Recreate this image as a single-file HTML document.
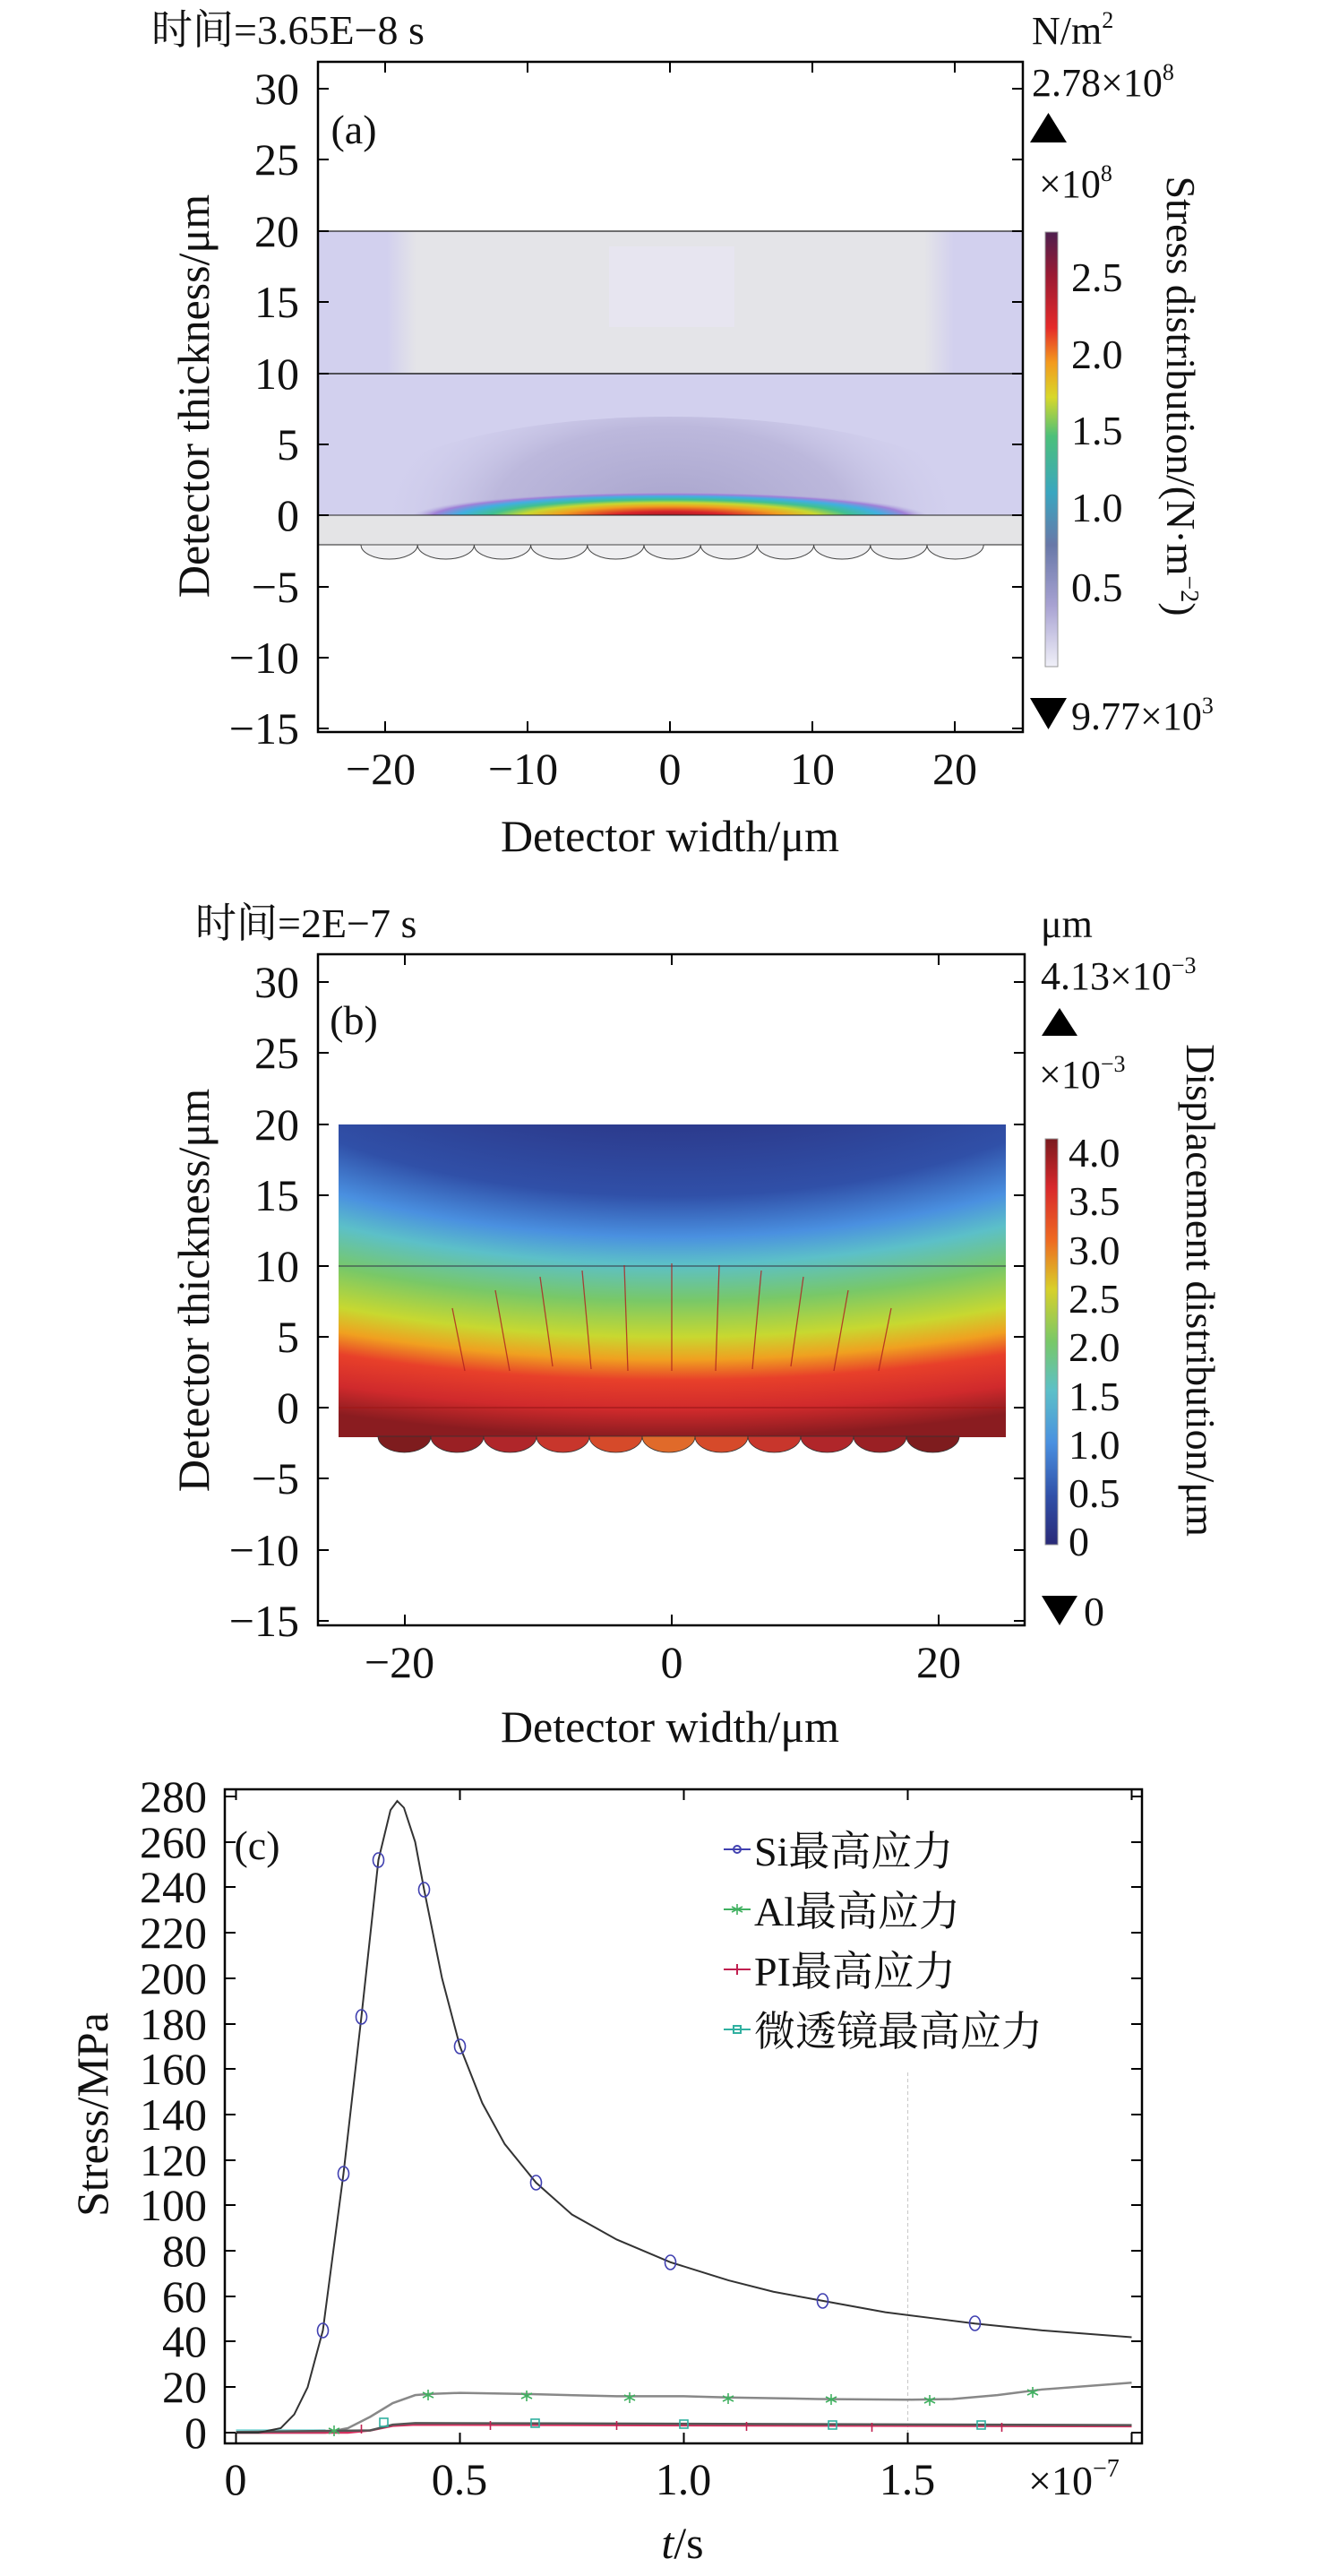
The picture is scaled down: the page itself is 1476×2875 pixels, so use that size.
<!DOCTYPE html>
<html><head><meta charset="utf-8"><style>
html,body{margin:0;padding:0;background:#fff;}
svg{display:block;}
text{font-family:"Liberation Serif","Noto Serif CJK SC",serif;fill:#111;}
</style></head><body>
<svg width="1476" height="2875" viewBox="0 0 1476 2875" xmlns="http://www.w3.org/2000/svg">
<defs>
 <linearGradient id="cbA" x1="0" y1="0" x2="0" y2="1">
  <stop offset="0" stop-color="#4e1f4e"/><stop offset="0.1" stop-color="#9a1a33"/>
  <stop offset="0.22" stop-color="#e52a2a"/><stop offset="0.3" stop-color="#f39a1e"/>
  <stop offset="0.38" stop-color="#d8d82a"/><stop offset="0.47" stop-color="#4cc07a"/>
  <stop offset="0.6" stop-color="#3aa6c0"/><stop offset="0.72" stop-color="#6878a8"/>
  <stop offset="0.86" stop-color="#a8a2d2"/><stop offset="1" stop-color="#f0f0f8"/>
 </linearGradient>
 <linearGradient id="cbB" x1="0" y1="0" x2="0" y2="1">
  <stop offset="0" stop-color="#7a1a1e"/><stop offset="0.12" stop-color="#d8282c"/>
  <stop offset="0.25" stop-color="#ee6a22"/><stop offset="0.37" stop-color="#d8d02a"/>
  <stop offset="0.5" stop-color="#78c868"/><stop offset="0.62" stop-color="#5cc0c8"/>
  <stop offset="0.75" stop-color="#4a90e0"/><stop offset="0.88" stop-color="#3050a8"/>
  <stop offset="1" stop-color="#2a2a78"/>
 </linearGradient>
 <linearGradient id="edgeL" x1="0" y1="0" x2="1" y2="0">
  <stop offset="0" stop-color="#d2d0ee"/><stop offset="0.7" stop-color="#d2d0ee"/><stop offset="1" stop-color="#d2d0ee" stop-opacity="0"/>
 </linearGradient>
 <linearGradient id="edgeR" x1="1" y1="0" x2="0" y2="0">
  <stop offset="0" stop-color="#d2d0ee"/><stop offset="0.7" stop-color="#d2d0ee"/><stop offset="1" stop-color="#d2d0ee" stop-opacity="0"/>
 </linearGradient>
 <radialGradient id="heat" cx="748" cy="578" r="290" gradientUnits="userSpaceOnUse" gradientTransform="translate(748 578) scale(1 0.1) translate(-748 -578)">
  <stop offset="0" stop-color="#8a1424"/><stop offset="0.25" stop-color="#d8242a"/>
  <stop offset="0.45" stop-color="#f0a020"/><stop offset="0.58" stop-color="#c8d830"/>
  <stop offset="0.7" stop-color="#40c090"/><stop offset="0.82" stop-color="#40b0e0"/>
  <stop offset="0.92" stop-color="#a080d8"/><stop offset="1" stop-color="#b8b4e0" stop-opacity="0"/>
 </radialGradient>
 <radialGradient id="glow" cx="748" cy="575" r="330" gradientUnits="userSpaceOnUse" gradientTransform="translate(748 575) scale(1 0.5) translate(-748 -575)">
  <stop offset="0" stop-color="#a8a4cc"/><stop offset="0.6" stop-color="#bcb8dc"/><stop offset="1" stop-color="#d2d0ee" stop-opacity="0"/>
 </radialGradient>
 <radialGradient id="disp" cx="750" cy="1096" r="508" gradientUnits="userSpaceOnUse" gradientTransform="translate(750 1096) scale(2.35 1) translate(-750 -1096)">
  <stop offset="0" stop-color="#2a2a78"/><stop offset="0.31" stop-color="#2c3a8c"/>
  <stop offset="0.47" stop-color="#3050a8"/><stop offset="0.56" stop-color="#4a90e0"/>
  <stop offset="0.62" stop-color="#5cc0c8"/><stop offset="0.7" stop-color="#78c868"/>
  <stop offset="0.78" stop-color="#c8d830"/><stop offset="0.83" stop-color="#f0a020"/>
  <stop offset="0.875" stop-color="#e8402a"/><stop offset="0.94" stop-color="#d02a2c"/>
  <stop offset="1" stop-color="#8a1c20"/>
 </radialGradient>
 <clipPath id="clipA"><rect x="355" y="417" width="787" height="159"/></clipPath>
</defs>

<!-- ===== Panel (a) ===== -->
<text x="169" y="49" font-size="46">时间=3.65E−8 s</text>
<text x="1152" y="49" font-size="44">N/m<tspan font-size="26" dy="-18">2</tspan></text>
<text x="1152" y="107" font-size="44">2.78×10<tspan font-size="26" dy="-18">8</tspan></text>
<polygon points="1150,159 1191,159 1170.5,126" fill="#000"/>
<text x="1160" y="220" font-size="44">×10<tspan font-size="26" dy="-18">8</tspan></text>
<rect x="1167" y="259" width="14" height="485" fill="url(#cbA)" stroke="#999" stroke-width="1"/>
<g font-size="46"><text x="1196" y="325">2.5</text><text x="1196" y="411">2.0</text><text x="1196" y="496">1.5</text><text x="1196" y="582">1.0</text><text x="1196" y="671">0.5</text></g>
<text transform="translate(1303 442) rotate(90)" text-anchor="middle" font-size="46">Stress distribution/(N·m<tspan font-size="28" dy="-16">−2</tspan><tspan dy="16">)</tspan></text>
<polygon points="1150,779 1191,779 1170.5,814" fill="#000"/>
<text x="1196" y="814" font-size="44">9.77×10<tspan font-size="26" dy="-18">3</tspan></text>

<rect x="355" y="258" width="787" height="159" fill="#e4e4e8"/>
<rect x="355" y="258" width="110" height="159" fill="url(#edgeL)"/>
<rect x="1032" y="258" width="110" height="159" fill="url(#edgeR)"/>
<rect x="680" y="275" width="140" height="90" fill="#e8e6f4" opacity="0.7"/>
<rect x="355" y="417" width="787" height="159" fill="#d2d0ee"/>
<g clip-path="url(#clipA)">
 <ellipse cx="748" cy="575" rx="360" ry="110" fill="url(#glow)"/>
 <ellipse cx="748" cy="578" rx="290" ry="35" fill="url(#heat)"/>
</g>
<rect x="355" y="575" width="787" height="33" fill="#e4e4e6" stroke="#222" stroke-width="1"/>
<line x1="355" y1="258" x2="1142" y2="258" stroke="#222" stroke-width="1.2"/>
<line x1="355" y1="417" x2="1142" y2="417" stroke="#222" stroke-width="1.5"/>
<g fill="#eeeef0" stroke="#444" stroke-width="1">
 <path d="M403,608 a31.6,16 0 0 0 63.2,0 a31.6,16 0 0 0 63.2,0 a31.6,16 0 0 0 63.2,0 a31.6,16 0 0 0 63.2,0 a31.6,16 0 0 0 63.2,0 a31.6,16 0 0 0 63.2,0 a31.6,16 0 0 0 63.2,0 a31.6,16 0 0 0 63.2,0 a31.6,16 0 0 0 63.2,0 a31.6,16 0 0 0 63.2,0 a31.6,16 0 0 0 63.2,0 z"/>
</g>
<rect x="355" y="69" width="787" height="748" fill="none" stroke="#000" stroke-width="2.5"/>
<g stroke="#000" stroke-width="2">
 <path d="M355,99h12M355,178h12M355,258h12M355,337h12M355,417h12M355,496h12M355,575h12M355,655h12M355,734h12M355,813h12"/>
 <path d="M1142,99h-12M1142,178h-12M1142,258h-12M1142,337h-12M1142,417h-12M1142,496h-12M1142,575h-12M1142,655h-12M1142,734h-12M1142,813h-12"/>
 <path d="M430,817v-12M589,817v-12M748,817v-12M907,817v-12M1066,817v-12"/>
 <path d="M430,69v12M589,69v12M748,69v12M907,69v12M1066,69v12"/>
</g>
<g font-size="50" text-anchor="end">
 <text x="334" y="116">30</text><text x="334" y="195">25</text><text x="334" y="275">20</text><text x="334" y="354">15</text><text x="334" y="434">10</text><text x="334" y="513">5</text><text x="334" y="592">0</text><text x="334" y="672">−5</text><text x="334" y="751">−10</text><text x="334" y="830">−15</text>
</g>
<g font-size="50" text-anchor="middle">
 <text x="425" y="875">−20</text><text x="584" y="875">−10</text><text x="748" y="875">0</text><text x="907" y="875">10</text><text x="1066" y="875">20</text>
</g>
<text x="748" y="950" font-size="50" text-anchor="middle">Detector width/μm</text>
<text transform="translate(233 442) rotate(-90)" font-size="50" text-anchor="middle">Detector thickness/μm</text>
<text x="395" y="160" font-size="46" text-anchor="middle">(a)</text>

<!-- ===== Panel (b) ===== -->
<text x="218" y="1046" font-size="46">时间=2E−7 s</text>
<text x="1162" y="1046" font-size="44">μm</text>
<text x="1162" y="1104" font-size="44">4.13×10<tspan font-size="26" dy="-18">−3</tspan></text>
<polygon points="1163,1156 1203,1156 1183,1125" fill="#000"/>
<text x="1160" y="1214" font-size="44">×10<tspan font-size="26" dy="-18">−3</tspan></text>
<rect x="1167" y="1271" width="14" height="453" fill="url(#cbB)" stroke="#999" stroke-width="1"/>
<g font-size="46"><text x="1193" y="1302">4.0</text><text x="1193" y="1356">3.5</text><text x="1193" y="1411">3.0</text><text x="1193" y="1465">2.5</text><text x="1193" y="1519">2.0</text><text x="1193" y="1574">1.5</text><text x="1193" y="1628">1.0</text><text x="1193" y="1682">0.5</text><text x="1193" y="1736">0</text></g>
<text transform="translate(1325 1440) rotate(90)" text-anchor="middle" font-size="46">Displacement distribution/μm</text>
<polygon points="1163,1781 1203,1781 1183,1814" fill="#000"/>
<text x="1210" y="1814" font-size="46">0</text>

<rect x="378" y="1255" width="745" height="349" fill="url(#disp)"/>
<g stroke="#333" stroke-width="0.8">
 <path d="M422,1603 a29.5,18 0 0 0 59,0 z" fill="#7e1c1e"/><path d="M481,1603 a29.5,18 0 0 0 59,0 z" fill="#9a2024"/>
 <path d="M540,1603 a29.5,18 0 0 0 59,0 z" fill="#b0262a"/><path d="M599,1603 a29.5,18 0 0 0 59,0 z" fill="#c8362c"/>
 <path d="M658,1603 a29.5,18 0 0 0 59,0 z" fill="#d64a2a"/><path d="M717,1603 a29.5,18 0 0 0 59,0 z" fill="#e06a2a"/>
 <path d="M776,1603 a29.5,18 0 0 0 59,0 z" fill="#d64a2a"/><path d="M835,1603 a29.5,18 0 0 0 59,0 z" fill="#c8362c"/>
 <path d="M894,1603 a29.5,18 0 0 0 59,0 z" fill="#b0262a"/><path d="M953,1603 a29.5,18 0 0 0 59,0 z" fill="#9a2024"/>
 <path d="M1012,1603 a29.5,18 0 0 0 59,0 z" fill="#7e1c1e"/>
</g>
<line x1="378" y1="1413" x2="1123" y2="1413" stroke="#334" stroke-width="1"/>
<line x1="378" y1="1571" x2="1123" y2="1571" stroke="#a01818" stroke-width="1.2"/>
<g stroke="#b02020" stroke-width="1.3" opacity="0.8">
 <path d="M750,1410v120M697,1412l4,118M803,1412l-4,118M650,1418l10,110M850,1418l-10,110M603,1425l14,100M897,1425l-14,100M553,1440l16,90M947,1440l-16,90M505,1460l14,70M995,1460l-14,70"/>
</g>
<rect x="355" y="1065" width="789" height="749" fill="none" stroke="#000" stroke-width="2.5"/>
<g stroke="#000" stroke-width="2">
 <path d="M355,1096h12M355,1175h12M355,1255h12M355,1334h12M355,1413h12M355,1492h12M355,1571h12M355,1650h12M355,1730h12M355,1809h12"/>
 <path d="M1144,1096h-12M1144,1175h-12M1144,1255h-12M1144,1334h-12M1144,1413h-12M1144,1492h-12M1144,1571h-12M1144,1650h-12M1144,1730h-12M1144,1809h-12"/>
 <path d="M452,1814v-12M750,1814v-12M1048,1814v-12M452,1065v12M750,1065v12M1048,1065v12"/>
</g>
<g font-size="50" text-anchor="end">
 <text x="334" y="1113">30</text><text x="334" y="1192">25</text><text x="334" y="1272">20</text><text x="334" y="1351">15</text><text x="334" y="1430">10</text><text x="334" y="1509">5</text><text x="334" y="1588">0</text><text x="334" y="1667">−5</text><text x="334" y="1747">−10</text><text x="334" y="1826">−15</text>
</g>
<g font-size="50" text-anchor="middle"><text x="446" y="1872">−20</text><text x="750" y="1872">0</text><text x="1048" y="1872">20</text></g>
<text x="748" y="1944" font-size="50" text-anchor="middle">Detector width/μm</text>
<text transform="translate(233 1440) rotate(-90)" font-size="50" text-anchor="middle">Detector thickness/μm</text>
<text x="395" y="1154" font-size="46" text-anchor="middle">(b)</text>

<!-- ===== Panel (c) ===== -->
<line x1="1013.5" y1="2313" x2="1013.5" y2="2724" stroke="#ccc" stroke-width="1.2" stroke-dasharray="4,3"/>
<g transform="translate(263.5 2715) scale(500 -2.536)" fill="none">
 <polyline vector-effect="non-scaling-stroke" stroke="#7fd8d8" stroke-width="5" points="0,0.5 0.15,0.5 0.2,0.5"/>
 <polyline vector-effect="non-scaling-stroke" stroke="#888" stroke-width="2.5" points="0,0 0.2,0 0.25,2 0.3,7 0.35,13 0.4,16.5 0.43,17 0.5,17.5 0.65,17 0.85,16 1.0,16 1.1,15.5 1.3,14.8 1.5,14.5 1.6,14.8 1.7,16.5 1.8,19 2.0,22"/>
 <polyline vector-effect="non-scaling-stroke" stroke="#d83060" stroke-width="2.5" points="0,0 0.25,0 0.3,1 0.35,3 0.4,3.5 1.0,3.2 2.0,2.8"/>
 <polyline vector-effect="non-scaling-stroke" stroke="#555" stroke-width="2.5" points="0,0.3 0.3,1 0.35,3.5 0.4,4.2 1.0,3.9 2.0,3.3"/>
 <polyline vector-effect="non-scaling-stroke" stroke="#333" stroke-width="2" points="0,0 0.05,0 0.1,2 0.13,8 0.16,20 0.194,45 0.24,114 0.28,183 0.318,252 0.345,274 0.36,278 0.375,275 0.4,260 0.42,239 0.46,200 0.5,170 0.55,145 0.6,127 0.67,110 0.75,96 0.85,85 0.97,75 1.1,67 1.2,62 1.31,58 1.45,53 1.55,50.5 1.65,48 1.8,45 2.0,42"/>
</g>
<g fill="none" stroke="#4040b0" stroke-width="1.6">
 <ellipse cx="360.5" cy="2601" rx="6" ry="8"/><ellipse cx="383.5" cy="2426" rx="6" ry="8"/><ellipse cx="403.5" cy="2251" rx="6" ry="8"/><ellipse cx="422.5" cy="2076" rx="6" ry="8"/><ellipse cx="473.5" cy="2109" rx="6" ry="8"/><ellipse cx="513.5" cy="2284" rx="6" ry="8"/><ellipse cx="598.5" cy="2436" rx="6" ry="8"/><ellipse cx="748.5" cy="2525" rx="6" ry="8"/><ellipse cx="918.5" cy="2568" rx="6" ry="8"/><ellipse cx="1088.5" cy="2593" rx="6" ry="8"/>
</g>
<g stroke="#40b060" stroke-width="1.6">
 <path d="M373,2707v12M367,2710l12,6M367,2716l12,-6"/>
 <path d="M478,2667v12M472,2670l12,6M472,2676l12,-6"/>
 <path d="M588,2668v12M582,2671l12,6M582,2677l12,-6"/>
 <path d="M703,2670v12M697,2673l12,6M697,2679l12,-6"/>
 <path d="M813,2671v12M807,2674l12,6M807,2680l12,-6"/>
 <path d="M928,2672v12M922,2675l12,6M922,2681l12,-6"/>
 <path d="M1038,2673v12M1032,2676l12,6M1032,2682l12,-6"/>
 <path d="M1153,2664v12M1147,2667l12,6M1147,2673l12,-6"/>
</g>
<g stroke="#c02050" stroke-width="1.6">
 <path d="M403.5,2706v10M547.5,2702v10M688.5,2702v10M833.5,2703v10M973.5,2704v10M1118.5,2704v10"/>
</g>
<g fill="none" stroke="#30b0a0" stroke-width="1.6">
 <rect x="424" y="2699" width="9" height="9"/><rect x="593" y="2700" width="9" height="9"/><rect x="759" y="2701" width="9" height="9"/><rect x="925" y="2702" width="9" height="9"/><rect x="1091" y="2702" width="9" height="9"/>
</g>
<rect x="251" y="1997" width="1024" height="730" fill="none" stroke="#000" stroke-width="2.5"/>
<g stroke="#000" stroke-width="2">
 <path d="M251,2005h12M251,2056h12M251,2106h12M251,2157h12M251,2208h12M251,2259h12M251,2309h12M251,2360h12M251,2411h12M251,2461h12M251,2512h12M251,2563h12M251,2613h12M251,2664h12M251,2715h12"/>
 <path d="M1275,2005h-12M1275,2056h-12M1275,2106h-12M1275,2157h-12M1275,2208h-12M1275,2259h-12M1275,2309h-12M1275,2360h-12M1275,2411h-12M1275,2461h-12M1275,2512h-12M1275,2563h-12M1275,2613h-12M1275,2664h-12M1275,2715h-12"/>
 <path d="M263.5,2727v-12M513.5,2727v-12M763.5,2727v-12M1013.5,2727v-12M1263.5,2727v-12"/>
 <path d="M263.5,1997v12M513.5,1997v12M763.5,1997v12M1013.5,1997v12M1263.5,1997v12"/>
</g>
<g font-size="50" text-anchor="end">
 <text x="231" y="2022">280</text><text x="231" y="2073">260</text><text x="231" y="2123">240</text><text x="231" y="2174">220</text><text x="231" y="2225">200</text><text x="231" y="2276">180</text><text x="231" y="2326">160</text><text x="231" y="2377">140</text><text x="231" y="2428">120</text><text x="231" y="2478">100</text><text x="231" y="2529">80</text><text x="231" y="2580">60</text><text x="231" y="2630">40</text><text x="231" y="2681">20</text><text x="231" y="2732">0</text>
</g>
<g font-size="50" text-anchor="middle"><text x="263" y="2784">0</text><text x="513" y="2784">0.5</text><text x="763" y="2784">1.0</text><text x="1013" y="2784">1.5</text></g>
<text x="1148" y="2784" font-size="46">×10<tspan font-size="28" dy="-20">−7</tspan></text>
<text x="762" y="2855" font-size="50" text-anchor="middle"><tspan font-style="italic">t</tspan>/s</text>
<text transform="translate(120 2360) rotate(-90)" font-size="50" text-anchor="middle">Stress/MPa</text>
<text x="287" y="2075" font-size="46" text-anchor="middle">(c)</text>
<g stroke-width="2">
 <line x1="808" y1="2064" x2="838" y2="2064" stroke="#4040b0"/><circle cx="823" cy="2064" r="4" fill="none" stroke="#4040b0"/>
 <line x1="808" y1="2131" x2="838" y2="2131" stroke="#40b060"/><path d="M823,2125v12M817,2128l12,6M817,2134l12,-6" stroke="#40b060" stroke-width="1.6"/>
 <line x1="808" y1="2198" x2="838" y2="2198" stroke="#c02050"/><line x1="823" y1="2192" x2="823" y2="2204" stroke="#c02050"/>
 <line x1="808" y1="2265" x2="838" y2="2265" stroke="#30b0a0"/><rect x="819" y="2261" width="8" height="8" fill="none" stroke="#30b0a0"/>
</g>
<g font-size="46"><text x="842" y="2082">Si最高应力</text><text x="842" y="2149">Al最高应力</text><text x="842" y="2216">PI最高应力</text><text x="842" y="2283">微透镜最高应力</text></g>
</svg>
</body></html>
